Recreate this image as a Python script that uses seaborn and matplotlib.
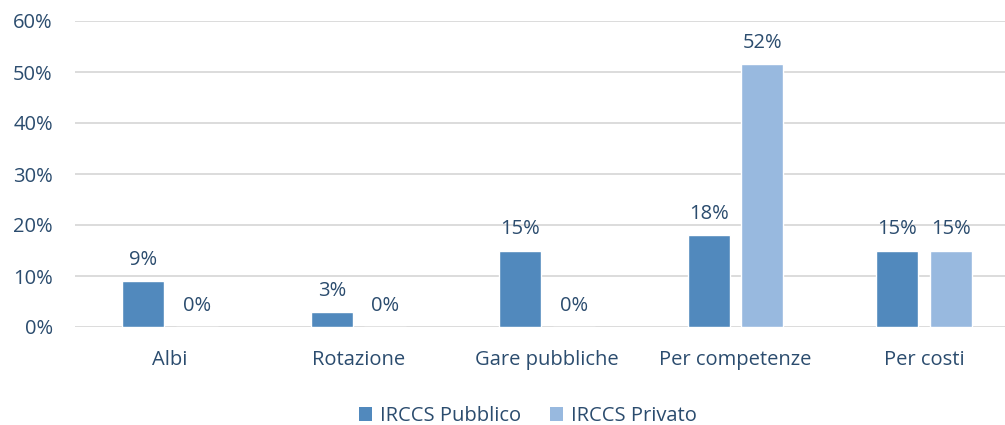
import matplotlib
matplotlib.use("Agg")
import matplotlib.pyplot as plt
import seaborn as sns
import pandas as pd
from matplotlib.ticker import PercentFormatter
from matplotlib.patches import Patch

categories = ["Albi", "Rotazione", "Gare pubbliche", "Per competenze", "Per costi"]
series_names = ["IRCCS Pubblico", "IRCCS Privato"]
pubblico = [9.0, 3.0, 15.0, 18.0, 15.0]
privato = [0.0, 0.0, 0.0, 51.5, 15.0]
y_ticks = [0, 10, 20, 30, 40, 50, 60]

colors = ["#5189BD", "#98B9DF"]
text_color = "#2B4C6E"
grid_color = "#D9D9D9"
fs = 14.5

df = pd.DataFrame({
    "cat": categories * 2,
    "serie": [series_names[0]] * len(categories) + [series_names[1]] * len(categories),
    "val": pubblico + privato,
})

sns.set_theme(style="white")
plt.rcParams["font.family"] = ["Open Sans", "DejaVu Sans"]

fig = plt.figure(figsize=(10.05, 4.25), dpi=100)
ax = fig.add_axes([75 / 1005, 98 / 425, 930 / 1005, 306 / 425])

sns.barplot(data=df, x="cat", y="val", hue="serie", order=categories,
            hue_order=series_names, palette=colors, width=0.567, gap=0.214,
            saturation=1, ax=ax, legend=False, zorder=3)

for cont in ax.containers:
    ax.bar_label(cont, labels=[f"{v:.0f}%" for v in cont.datavalues],
                 padding=8, fontsize=fs, color=text_color)

ax.set_ylim(0, 60)
ax.set_xlim(-0.505, 4.43)
ax.set_yticks(y_ticks)
ax.yaxis.set_major_formatter(PercentFormatter(decimals=0))
ax.grid(axis="y", color=grid_color, linewidth=1.3, zorder=0)
ax.set_axisbelow(True)
for s in ax.spines.values():
    s.set_visible(False)
ax.tick_params(axis="both", length=0, labelsize=fs, colors=text_color)
ax.tick_params(axis="x", pad=16.5)
ax.tick_params(axis="y", pad=16)
ax.set_xlabel("")
ax.set_ylabel("")

handles = [Patch(facecolor=c, edgecolor="none") for c in colors]
fig.legend(handles, series_names, loc="center", bbox_to_anchor=(528 / 1005, 9 / 425),
           ncol=2, frameon=False, fontsize=fs, labelcolor=text_color,
           handlelength=0.65, handleheight=0.65, handletextpad=0.4, columnspacing=1.4)

fig.savefig("out.png", dpi=100)
